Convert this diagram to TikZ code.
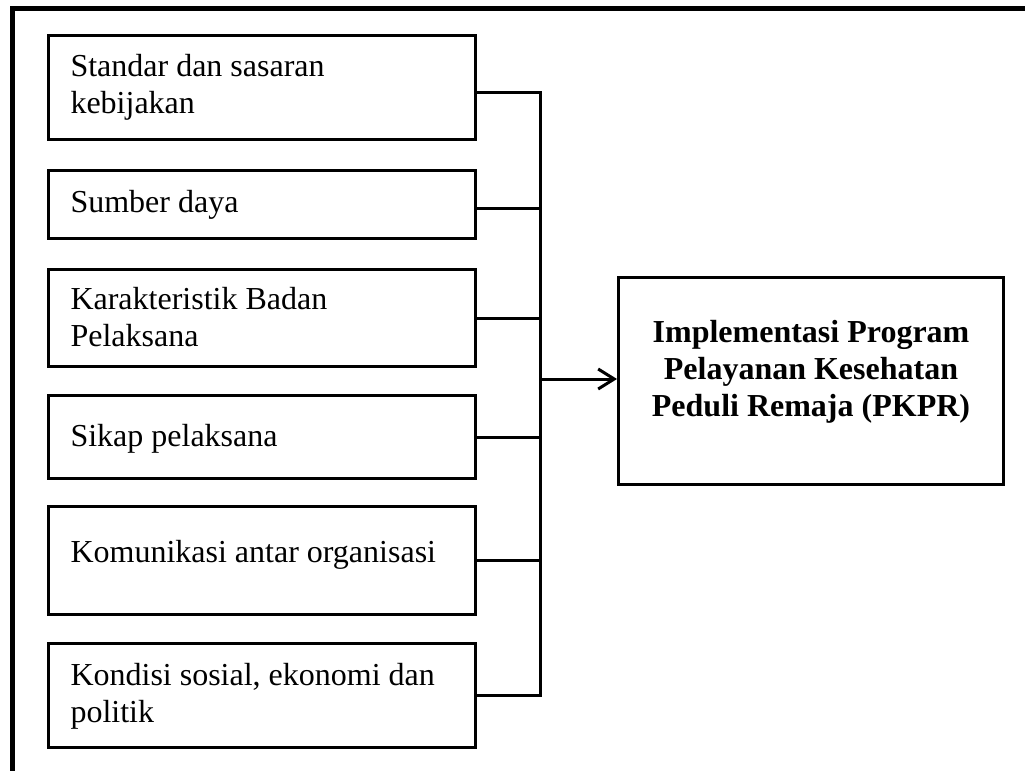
\documentclass[tikz,border=0pt]{standalone}
\usepackage{fontspec}
\setmainfont{Liberation Serif}
\usetikzlibrary{arrows.meta,calc}
\newdimen\pxu \pxu=0.75pt
\newcommand\myboxtext[3]{\parbox[t][#1\pxu][t]{427\pxu}{\fontsize{24pt}{27.75pt}\selectfont\raggedright\leftskip=22\pxu\rule{0pt}{#2\pxu}#3}}
\begin{document}
\begin{tikzpicture}[x=0.75pt,y=-0.75pt,
  box/.style={draw, line width=2.25pt, inner sep=0pt, anchor=north west},
  wire/.style={line width=2.25pt},
  frame/.style={line width=3.75pt},
  arr/.style={line width=2.25pt, -{Straight Barb[length=12pt,width=15pt]}}]
\useasboundingbox (0,0) rectangle (1025,771);
\clip (0,0) rectangle (1025,771);
\draw[frame] (1060,8.5) -- (12.5,8.5) -- (12.5,790);

\node[box] (b1) at (47,34)  {\myboxtext{104}{41}{Standar dan sasaran\\kebijakan}};
\node[box] (b2) at (47,169) {\myboxtext{68}{42}{Sumber daya}};
\node[box] (b3) at (47,268) {\myboxtext{97}{40}{Karakteristik Badan\\Pelaksana}};
\node[box] (b4) at (47,394) {\myboxtext{83}{51}{Sikap pelaksana}};
\node[box] (b5) at (47,505) {\myboxtext{108}{56}{Komunikasi antar organisasi}};
\node[box] (b6) at (47,642) {\myboxtext{104}{42}{Kondisi sosial, ekonomi dan\\politik}};

\node[box] (rb) at (617,276) {\parbox[t][207\pxu][t]{385\pxu}{\fontsize{24pt}{27.75pt}\selectfont\bfseries\centering\rule{0pt}{65\pxu}Implementasi Program\\Pelayanan Kesehatan\\Peduli Remaja (PKPR)}};

\coordinate (bus) at (540,0);
\draw[wire] ([yshift=-3.75pt]b1.east) -- ([yshift=-3.75pt]b1.east -| bus) -- (b6.east -| bus) -- (b6.east);
\draw[wire] ([yshift=-3pt]b2.east) -- ([yshift=-3pt]b2.east -| bus);
\draw[wire] (b3.east) -- (b3.east -| bus);
\draw[wire] (b4.east) -- (b4.east -| bus);
\draw[wire] (b5.east) -- (b5.east -| bus);
\draw[arr] ([yshift=1.5pt]rb.west -| bus) -- ([yshift=1.5pt]rb.west);
\end{tikzpicture}
\end{document}
